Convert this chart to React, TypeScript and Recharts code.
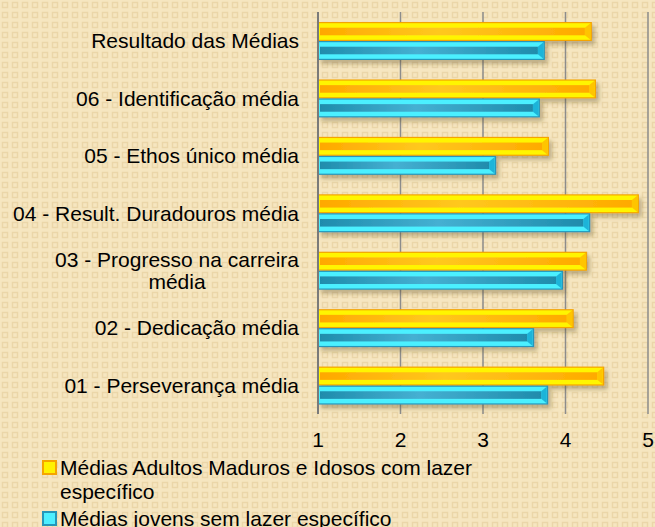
import React from 'react';
import { BarChart, Bar, XAxis, YAxis, CartesianGrid, Legend } from 'recharts';

const categories = [
  'Resultado das Médias',
  '06 - Identificação média',
  '05 - Ethos único média',
  '04 - Result. Duradouros média',
  '03 - Progresso na carreira média',
  '02 - Dedicação média',
  '01 - Perseverança média',
];
const adultosValues = [4.32, 4.37, 3.8, 4.89, 4.26, 4.1, 4.47];
const jovensValues = [3.75, 3.69, 3.16, 4.3, 3.97, 3.62, 3.79];
const xTicks = [1, 2, 3, 4, 5];
const seriesNames = [
  'Médias Adultos Maduros e Idosos com lazer específico',
  'Médias jovens sem lazer específico',
];
// label line breaks as in the reference
const labelLines: Record<string, string[]> = {
  '03 - Progresso na carreira média': ['03 - Progresso na carreira', 'média'],
};

const data = categories.map((name, i) => ({
  name,
  adultos: adultosValues[i],
  jovens: jovensValues[i],
}));

const FONT = '"Liberation Sans", Arial, sans-serif';
const FS = 21;

const YELLOW = { border: '#F5A400', light: '#FFF500', stripe: 'url(#yStripe)', bevel: '#FFC400' };
const CYAN = { border: '#2596BA', light: '#4CF0FF', stripe: 'url(#cStripe)', bevel: '#1FB4D9' };

function measure(text: string) {
  try {
    const c = document.createElement('canvas').getContext('2d');
    if (c) {
      c.font = `${FS}px ${FONT}`;
      return c.measureText(text).width;
    }
  } catch (e) {}
  return text.length * FS * 0.5;
}

const makeBar = (col: typeof YELLOW) => (props: any) => {
  const { x, y, width, height } = props;
  if (!width || width <= 0) return null;
  const h = height;
  return (
    <g filter="url(#barShadow)">
      <rect x={x} y={y} width={width} height={h} fill={col.border} />
      <rect x={x} y={y + 1.2} width={width - 1.5} height={h - 2.4} fill={col.light} />
      <polygon
        points={`${x + width - 7},${y + h * 0.3} ${x + width - 1.5},${y + 1.2} ${x + width - 1.5},${y + h - 1.2} ${x + width - 7},${y + h * 0.7}`}
        fill={col.bevel}
      />
      <rect x={x + 2} y={y + h * 0.3} width={Math.max(0, width - 9)} height={h * 0.4} fill={col.stripe} />
    </g>
  );
};

const YTick = (props: any) => {
  const { x, y, payload } = props;
  const lines = labelLines[payload.value] || [payload.value];
  if (lines.length === 1) {
    return (
      <text x={x} y={y + 7.5} textAnchor="end" fontSize={FS} fontFamily={FONT} fill="#000">
        {lines[0]}
      </text>
    );
  }
  const w = measure(lines[0]);
  const cx = x - w / 2;
  return (
    <g>
      <text x={x} y={y - 3.5} textAnchor="end" fontSize={FS} fontFamily={FONT} fill="#000">
        {lines[0]}
      </text>
      <text x={cx} y={y + 19} textAnchor="middle" fontSize={FS} fontFamily={FONT} fill="#000">
        {lines[1]}
      </text>
    </g>
  );
};

const LegendContent = () => {
  const items = [
    { name: seriesNames[0], fill: '#FFF200', border: '#F5A400' },
    { name: seriesNames[1], fill: '#4EEFFF', border: '#2596BA' },
  ];
  return (
    <div style={{ fontFamily: FONT, fontSize: FS, lineHeight: '24px', color: '#000' }}>
      {items.map((it, i) => (
        <div key={i} style={{ display: 'flex', alignItems: 'flex-start', marginBottom: 3 }}>
          <div
            style={{
              width: 11,
              height: 11,
              marginTop: 4,
              marginRight: 3,
              background: it.fill,
              border: `2px solid ${it.border}`,
              flex: 'none',
            }}
          />
          <div style={{ width: 430 }}>{it.name}</div>
        </div>
      ))}
    </div>
  );
};

const tile =
  "data:image/svg+xml," +
  encodeURIComponent(
    "<svg xmlns='http://www.w3.org/2000/svg' width='10' height='10'><rect width='10' height='10' fill='#F6E6C0'/><rect x='2.5' y='2.5' width='5' height='5' fill='none' stroke='#EBD6A8' stroke-width='1.4'/></svg>"
  );

export default function App() {
  return (
    <div
      style={{
        position: 'absolute',
        left: 0,
        top: 0,
        width: 655,
        height: 527,
        backgroundColor: '#F5E5BE',
        backgroundImage: `url("${tile}")`,
        overflow: 'hidden',
      }}
    >
      <BarChart
        width={655}
        height={527}
        data={data}
        layout="vertical"
        margin={{ top: 12, right: 7, left: 0, bottom: 83 }}
        barSize={19}
        barGap={0}
      >
        <defs>
          <linearGradient id="yStripe" x1="0" y1="0" x2="1" y2="0">
            <stop offset="0%" stopColor="#FFA800" />
            <stop offset="45%" stopColor="#FFC81E" />
            <stop offset="100%" stopColor="#FFAA00" />
          </linearGradient>
          <linearGradient id="cStripe" x1="0" y1="0" x2="1" y2="0">
            <stop offset="0%" stopColor="#1F8CAC" />
            <stop offset="45%" stopColor="#45B0D2" />
            <stop offset="100%" stopColor="#1F8CAC" />
          </linearGradient>
          <filter id="barShadow" x="-5%" y="-30%" width="115%" height="180%">
            <feDropShadow dx="3" dy="4" stdDeviation="2" floodColor="#5a4a20" floodOpacity="0.35" />
          </filter>
        </defs>
        <CartesianGrid horizontal={false} vertical stroke="#8c8c8c" strokeWidth={1.5} />
        <XAxis
          type="number"
          domain={[1, 5]}
          ticks={xTicks}
          axisLine={false}
          tickLine={false}
          tickSize={0}
          tickMargin={18}
          height={30}
          tick={{ fontSize: FS, fontFamily: FONT, fill: '#000' }}
        />
        <YAxis
          type="category"
          dataKey="name"
          width={318}
          interval={0}
          tickLine={false}
          tickSize={0}
          tickMargin={19}
          axisLine={{ stroke: '#7a7a7a', strokeWidth: 2 }}
          tick={<YTick />}
        />
        <Legend
          layout="vertical"
          align="center"
          verticalAlign="middle"
          content={<LegendContent />}
          wrapperStyle={{ position: 'absolute', left: 42, top: 456, width: 480 }}
        />
        <Bar dataKey="adultos" name={seriesNames[0]} shape={makeBar(YELLOW)} isAnimationActive={false} />
        <Bar dataKey="jovens" name={seriesNames[1]} shape={makeBar(CYAN)} isAnimationActive={false} />
      </BarChart>
    </div>
  );
}
